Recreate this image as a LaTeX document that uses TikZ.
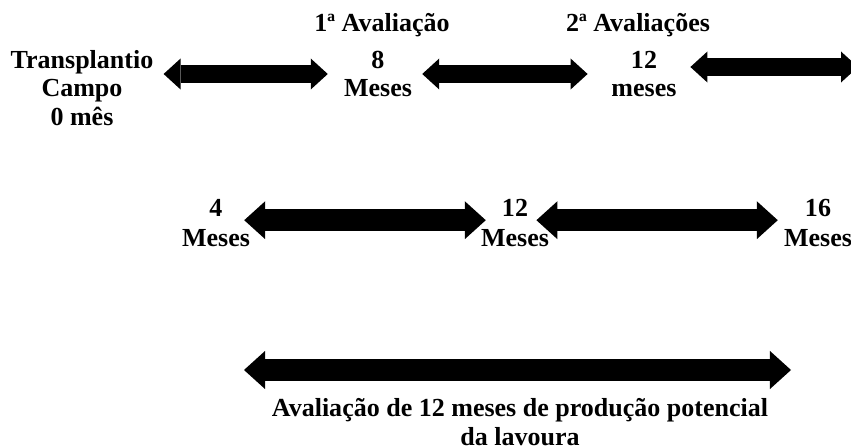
\documentclass[tikz,border=0pt]{standalone}
\usepackage{fontspec}
\setmainfont{Liberation Serif}
\usetikzlibrary{positioning, arrows.meta}

\begin{document}
\begin{tikzpicture}[
    x=0.025cm, y=-0.025cm,
    lbl/.style={align=center, inner sep=0pt, font=\fontsize{18.5}{20.3}\selectfont\bfseries},
    lbl_wide/.style={lbl, font=\fontsize{18.5}{21.8}\selectfont\bfseries},
    arrow_top/.style={line width=0.45cm,
        {Triangle[length=0.425cm, width=0.775cm, line width=0pt]}-{Triangle[length=0.425cm, width=0.775cm, line width=0pt]}},
    arrow_big/.style={line width=0.55cm,
        {Triangle[length=0.525cm, width=0.95cm, line width=0pt]}-{Triangle[length=0.525cm, width=0.95cm, line width=0pt]}}
]

\useasboundingbox (0,0) rectangle (851,446);
\clip (0,0) rectangle (851,446);

% Top row labels
\node[lbl] (tp) at (82,88) {Transplantio\\Campo\\0 mês};
\node[lbl] (m8) at (378,74) {8\\Meses};
\node[lbl] (m12a) at (644,74) {12\\meses};
\node[lbl, above=0.345cm of m8, xshift=0.1cm] (av1) {1ª Avaliação};
\node[lbl, above=0.345cm of m12a, xshift=-0.15cm] (av2) {2ª Avaliações};
\coordinate (rEnd) at (858,67);

% Middle row labels
\node[lbl_wide] (m4) at (216,223) {4\\Meses};
\node[lbl_wide] (m12b) at (515,223) {12\\Meses};
\node[lbl_wide] (m16) at (818,223) {16\\Meses};

% Bottom arrow and text
\coordinate (bL) at (244,370);
\coordinate (bR) at (791,370);
\node[lbl] (txt) at (520,422) {Avaliação de 12 meses de produção potencial\\da lavoura};

% Top row arrows
\draw[arrow_top, shorten <=0.25cm, shorten >=0.4cm] (tp.east |- m8) -- (m8.west);
\draw[arrow_top, shorten <=0.25cm, shorten >=0.59cm] (m8.east) -- (m12a.west);
\draw[arrow_top, shorten <=0.34cm] (m12a.east |- rEnd) -- (rEnd);

% Middle row arrows
\draw[arrow_big, shorten <=-0.15cm, shorten >=-0.125cm] ([yshift=0.07cm]m4.east) -- ([yshift=0.07cm]m12b.west);
\draw[arrow_big, shorten <=-0.32cm, shorten >=0.15cm] ([yshift=0.07cm]m12b.east) -- ([yshift=0.07cm]m16.west);

% Bottom arrow
\draw[arrow_big] (bL) -- (bR);

\end{tikzpicture}
\end{document}
